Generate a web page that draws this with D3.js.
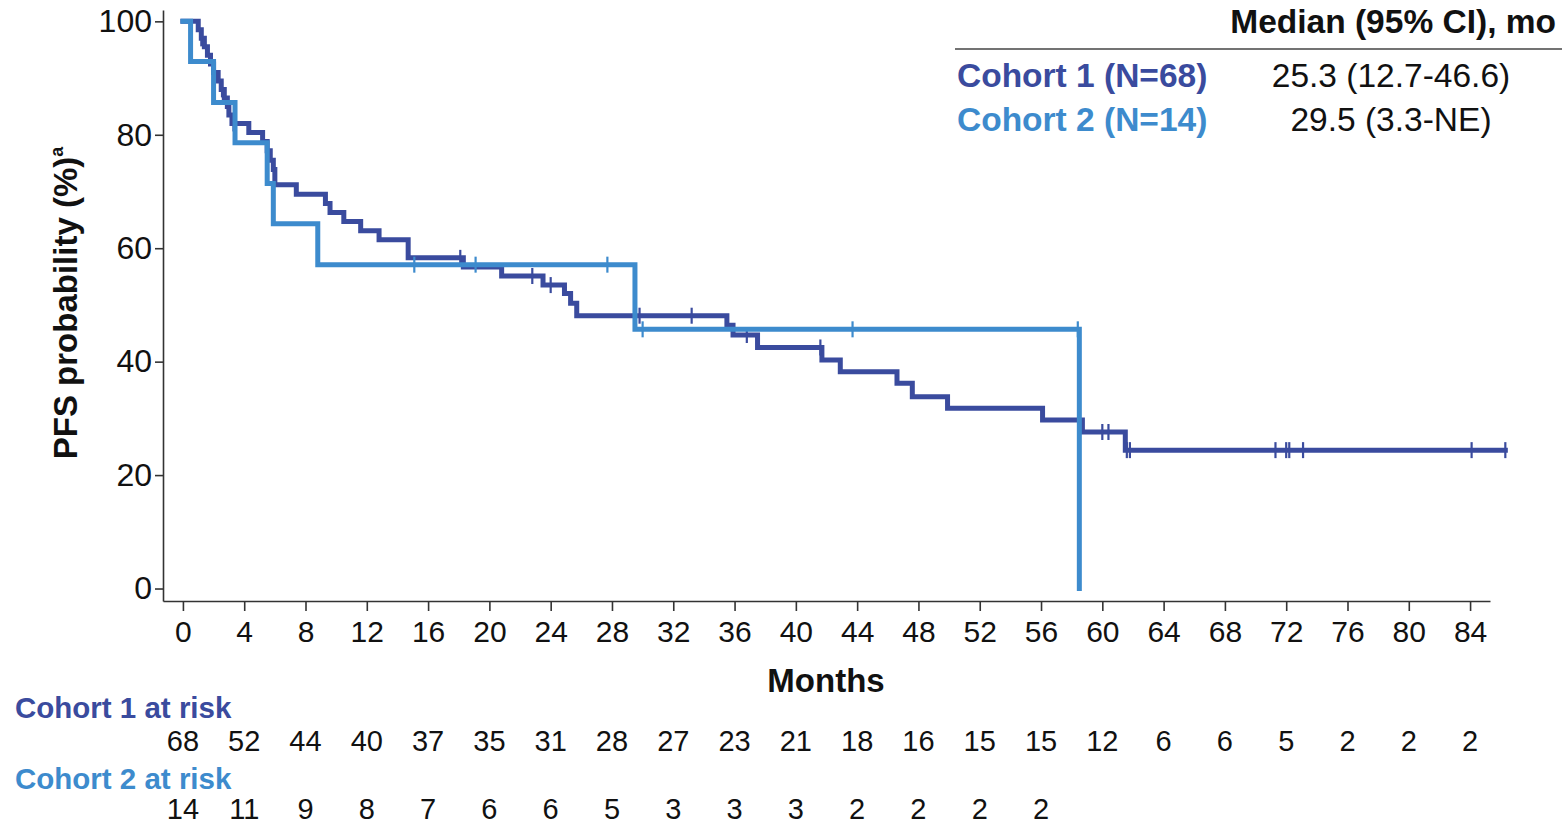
<!DOCTYPE html>
<html><head><meta charset="utf-8">
<script src="https://cdn.jsdelivr.net/npm/d3@7"></script>
<style>body{margin:0;background:#fff} svg{display:block} text{font-family:"Liberation Sans",Arial,sans-serif}</style>
</head><body><svg id="c" width="1562" height="824"></svg>
<script>
// ---- data ----
const c1Time = [0,1.0,1.2,1.4,1.6,1.8,2.0,2.3,2.5,2.7,2.9,3.0,3.2,4.3,5.2,5.5,5.7,5.9,6.0,7.4,9.3,9.6,10.5,11.6,12.8,14.7,18.3,20.8,23.5,24.9,25.3,25.7,35.5,35.9,37.5,41.7,42.9,46.6,47.6,49.9,56.1,58.7,61.5];
const c1Surv = [100,98.5,97.0,95.5,94.0,92.5,91.0,89.5,88.0,86.5,85.0,83.5,82.0,80.4,78.8,77.2,75.5,73.9,71.2,69.5,67.9,66.3,64.7,63.1,61.5,58.3,56.7,55.1,53.5,52.0,50.3,48.1,46.4,44.7,42.5,40.3,38.2,36.2,33.8,31.8,29.7,27.6,24.4];
const c1End = 86.3;
const c1Censor = [1.2,2.55,3.3,18.1,22.8,24.0,29.8,33.2,36.8,41.6,60.0,60.4,61.6,61.8,71.3,72.0,72.2,73.1,84.1,86.3];

const c2Time = [0,0.5,2.0,3.4,5.5,5.9,8.8,29.5,58.5];
const c2Surv = [100,92.9,85.7,78.6,71.4,64.3,57.1,45.7,0];
const c2End = 58.5;
const c2Censor = [15.1,19.1,27.7,30.0,43.7,58.4];

const xTicks = [0,4,8,12,16,20,24,28,32,36,40,44,48,52,56,60,64,68,72,76,80,84];
const yTicks = [0,20,40,60,80,100];
const c1AtRisk = [68,52,44,40,37,35,31,28,27,23,21,18,16,15,15,12,6,6,5,2,2,2];
const c2AtRisk = [14,11,9,8,7,6,6,5,3,3,3,2,2,2,2];

const legendNames = ["Cohort 1 (N=68)","Cohort 2 (N=14)"];
const legendMedians = ["25.3 (12.7-46.6)","29.5 (3.3-NE)"];
const riskLabels = ["Cohort 1 at risk","Cohort 2 at risk"];

const col1 = "#3a4b9e", col2 = "#3d8bcd";
const FONT = "'Liberation Sans',Arial,sans-serif";

const svg = d3.select("#c");
const x = d3.scaleLinear().domain([-1.3,85.3]).range([163,1490]);
const y = d3.scaleLinear().domain([-2.2,102]).range([601,10]);

// axes
const yAxis = svg.append("g").attr("transform","translate(163,0)")
  .call(d3.axisLeft(y).tickValues(yTicks).tickSize(8).tickSizeOuter(0));
yAxis.selectAll("text").attr("font-size",32).attr("font-family",FONT).attr("fill","#111").attr("x",-11);
yAxis.selectAll("line,path").attr("stroke","#333").attr("stroke-width",1.6);

const xAxis = svg.append("g").attr("transform","translate(0,601)")
  .call(d3.axisBottom(x).tickValues(xTicks).tickSize(10).tickSizeOuter(0));
xAxis.selectAll("text").attr("font-size",30).attr("font-family",FONT).attr("fill","#111").attr("y",20);
xAxis.selectAll("line,path").attr("stroke","#333").attr("stroke-width",1.6);

svg.append("text").attr("x",826).attr("y",692).attr("text-anchor","middle")
  .attr("font-size",33).attr("font-weight","bold").attr("fill","#111").text("Months");

const yl = svg.append("text").attr("transform","translate(77,303) rotate(-90)")
  .attr("text-anchor","middle").attr("font-size",33).attr("font-weight","bold").attr("fill","#111");
yl.append("tspan").text("PFS probability (%)");
yl.append("tspan").attr("font-size",18).attr("dy",-14).text("a");

// curves
const line = d3.line().x(d=>x(d[0])).y(d=>y(d[1])).curve(d3.curveStepAfter);
function stepPts(t,s,end){ const p=t.map((v,i)=>[v,s[i]]); if(end>t[t.length-1]) p.push([end,s[s.length-1]]); return p; }
function survAt(t,times,surv){ let v=surv[0]; for(let i=0;i<times.length;i++){ if(times[i]<=t) v=surv[i]; } return v; }

function drawCurve(times,surv,end,censor,color){
  svg.append("path").datum(stepPts(times,surv,end)).attr("d",line)
    .attr("fill","none").attr("stroke",color).attr("stroke-width",5).attr("stroke-linejoin","miter").attr("stroke-linecap","square");
  svg.append("g").selectAll("line").data(censor).join("line")
    .attr("x1",d=>x(d)).attr("x2",d=>x(d))
    .attr("y1",d=>y(survAt(d,times,surv))-8).attr("y2",d=>y(survAt(d,times,surv))+8)
    .attr("stroke",color).attr("stroke-width",2.2);
}
drawCurve(c1Time,c1Surv,c1End,c1Censor,col1);
drawCurve(c2Time,c2Surv,c2End,c2Censor,col2);

// legend table
svg.append("text").attr("x",1556).attr("y",33).attr("text-anchor","end")
  .attr("font-size",33.5).attr("font-weight","bold").attr("fill","#111").text("Median (95% CI), mo");
svg.append("line").attr("x1",955).attr("x2",1562).attr("y1",49).attr("y2",49).attr("stroke","#444").attr("stroke-width",1.5);
[col1,col2].forEach((c,i)=>{
  svg.append("text").attr("x",957).attr("y",87+i*44).attr("font-size",33.5).attr("font-weight","bold").attr("fill",c).text(legendNames[i]);
  svg.append("text").attr("x",1391).attr("y",87+i*44).attr("text-anchor","middle").attr("font-size",33.5).attr("fill","#111").text(legendMedians[i]);
});

// at risk table
[[c1AtRisk,col1,718,751],[c2AtRisk,col2,789,819]].forEach(([vals,c,ly,ny],i)=>{
  svg.append("text").attr("x",15).attr("y",ly).attr("font-size",29.5).attr("font-weight","bold").attr("fill",c).text(riskLabels[i]);
  svg.append("g").selectAll("text").data(vals).join("text")
    .attr("x",(d,j)=>x(xTicks[j])).attr("y",ny).attr("text-anchor","middle")
    .attr("font-size",29).attr("fill","#111").text(d=>d);
});
</script></body></html>
